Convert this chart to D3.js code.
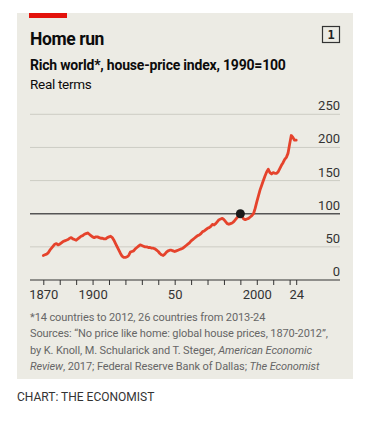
<!DOCTYPE html>
<html>
<head>
<meta charset="utf-8">
<script src="https://cdn.jsdelivr.net/npm/d3@7"></script>
<style>
  body { margin: 0; background: #fff; }
  svg text { font-family: Roboto, "Liberation Sans", sans-serif; }
</style>
</head>
<body>
<div class="chart"></div>
<script>
// house-price index, rich world, 1990=100 (real terms)
const firstYear = 1870;
const index = [
  37, 38, 39, 41, 45, 48, 51, 54, 55, 53,   // 1870s
  54, 56, 58, 59, 60, 61, 63, 64, 62, 61,   // 1880s
  60, 62, 64, 66, 67, 69, 70, 71, 69, 67,   // 1890s
  65, 64, 65, 65, 64, 63, 63, 62, 62, 64,   // 1900s
  65, 66, 64, 60, 55, 50, 45, 40, 36, 34,   // 1910s
  34, 35, 37, 42, 43, 44, 47, 49, 51, 53,   // 1920s
  52, 51, 50, 50, 49, 49, 48, 48, 47, 45,   // 1930s
  43, 40, 38, 37, 39, 42, 44, 45, 45, 44,   // 1940s
  43, 44, 45, 46, 47, 48, 50, 52, 54, 56,   // 1950s
  59, 61, 63, 65, 67, 68, 70, 73, 74, 76,   // 1960s
  78, 79, 81, 84, 83, 85, 88, 91, 92, 93,   // 1970s
  91, 88, 85, 84, 85, 86, 88, 91, 94, 98,   // 1980s
  100, 96, 92, 91, 92, 93, 95, 97, 100, 108, // 1990s
  118, 127, 136, 143, 150, 157, 163, 167, 162, 160, // 2000s
  162, 161, 161, 163, 168, 173, 177, 182, 185, 191, // 2010s
  205, 218, 215, 211, 211                   // 2020-24
];
const years = index.map((d, i) => firstYear + i);
const markYear = 1990;

const yTicks = [0, 50, 100, 150, 200, 250];
const xTicks = [1870, 1880, 1890, 1900, 1910, 1920, 1930, 1940, 1950, 1960,
  1970, 1980, 1990, 2000, 2010, 2020, 2024];
const xLabels = {1870: "1870", 1900: "1900", 1950: "50", 2000: "2000", 2024: "24"};

const title = "Home run";
const subtitle = "Rich world*, house-price index, 1990=100";
const unit = "Real terms";
const notes = [
  "*14 countries to 2012, 26 countries from 2013-24",
  [["Sources: “No price like home: global house prices, 1870-2012”,", false]],
  [["by K. Knoll, M. Schularick and T. Steger, ", false], ["American Economic", true]],
  [["Review", true], [", 2017; Federal Reserve Bank of Dallas; ", false], ["The Economist", true]]
];

const width = 368, height = 422;
const left = 30, right = 340;

const svg = d3.select(".chart")
  .append("svg")
  .attr("width", width)
  .attr("height", height);

// panel
svg.append("rect")
  .attr("x", 17).attr("y", 13)
  .attr("width", 336).attr("height", 366)
  .attr("fill", "#ecebe4");

svg.append("rect")
  .attr("x", 29).attr("y", 13)
  .attr("width", 38).attr("height", 5)
  .attr("fill", "#e3120b");

svg.append("text")
  .attr("x", 30).attr("y", 45)
  .attr("font-size", 17.5).attr("font-weight", 700)
  .attr("letter-spacing", -0.4)
  .attr("fill", "#0c0c0c")
  .text(title);

svg.append("text")
  .attr("x", 30).attr("y", 70)
  .attr("font-size", 14).attr("font-weight", 700)
  .attr("letter-spacing", -0.2)
  .attr("fill", "#0c0c0c")
  .text(subtitle);

svg.append("text")
  .attr("x", 30).attr("y", 89)
  .attr("font-size", 13.5)
  .attr("letter-spacing", -0.3)
  .attr("fill", "#0c0c0c")
  .text(unit);

// number box
svg.append("rect")
  .attr("x", 322.5).attr("y", 26.5)
  .attr("width", 17).attr("height", 16)
  .attr("fill", "none").attr("stroke", "#333").attr("stroke-width", 1.2);
svg.append("text")
  .attr("x", 331).attr("y", 39)
  .attr("text-anchor", "middle")
  .attr("font-size", 12).attr("font-weight", 700)
  .attr("fill", "#222")
  .style("font-family", "'DejaVu Sans Mono', monospace")
  .text("1");

// scales
const x = d3.scaleLinear()
  .domain([1870, 2024])
  .range([43.3, 296.2]);

const y = d3.scaleLinear()
  .domain([0, 250])
  .range([280, 114.3]);

// gridlines
svg.append("g")
  .selectAll("line")
  .data(yTicks.filter(d => d !== 0 && d !== 100))
  .join("line")
  .attr("x1", left).attr("x2", right)
  .attr("y1", d => y(d)).attr("y2", d => y(d))
  .attr("stroke", "#cdccc4").attr("stroke-width", 1);

svg.append("g")
  .selectAll("text")
  .data(yTicks)
  .join("text")
  .attr("x", right).attr("y", d => y(d) - 4)
  .attr("text-anchor", "end")
  .attr("font-size", 13)
  .attr("fill", "#333")
  .text(d => d);

// x axis
svg.append("g")
  .attr("transform", "translate(0," + y(0) + ")")
  .call(d3.axisBottom(x)
    .tickValues(xTicks)
    .tickSize(5)
    .tickSizeOuter(0)
    .tickPadding(5)
    .tickFormat(d => xLabels[d] || ""))
  .call(g => g.select(".domain").remove())
  .call(g => g.selectAll(".tick line").attr("stroke", "#333"))
  .call(g => g.selectAll(".tick text")
    .attr("font-size", 13)
    .attr("fill", "#333")
    .style("font-family", "Roboto, sans-serif"));

svg.append("line")
  .attr("x1", left).attr("x2", right)
  .attr("y1", y(0)).attr("y2", y(0))
  .attr("stroke", "#333").attr("stroke-width", 1);

// 1990 = 100 line
svg.append("line")
  .attr("x1", left).attr("x2", right)
  .attr("y1", y(100)).attr("y2", y(100))
  .attr("stroke", "#555").attr("stroke-width", 1.6);

// series
svg.append("path")
  .datum(index)
  .attr("fill", "none")
  .attr("stroke", "#e5432c")
  .attr("stroke-width", 2.8)
  .attr("stroke-linejoin", "round")
  .attr("stroke-linecap", "round")
  .attr("d", d3.line()
    .x((d, i) => x(years[i]))
    .y(d => y(d)));

svg.append("circle")
  .attr("cx", x(markYear))
  .attr("cy", y(index[years.indexOf(markYear)]))
  .attr("r", 4.5)
  .attr("fill", "#1a1a1a");

// footnotes
const foot = svg.append("g")
  .attr("font-size", 11)
  .attr("letter-spacing", -0.1)
  .attr("fill", "#666");

notes.forEach((line, i) => {
  const t = foot.append("text")
    .attr("x", 30).attr("y", 321 + i * 16.3);
  if (typeof line === "string") {
    t.text(line);
  } else {
    line.forEach(([s, it]) => {
      t.append("tspan")
        .attr("font-style", it ? "italic" : null)
        .text(s);
    });
  }
});

svg.append("text")
  .attr("x", 17).attr("y", 401)
  .attr("font-size", 12)
  .attr("fill", "#333")
  .text("CHART: THE ECONOMIST");
</script>
</body>
</html>
